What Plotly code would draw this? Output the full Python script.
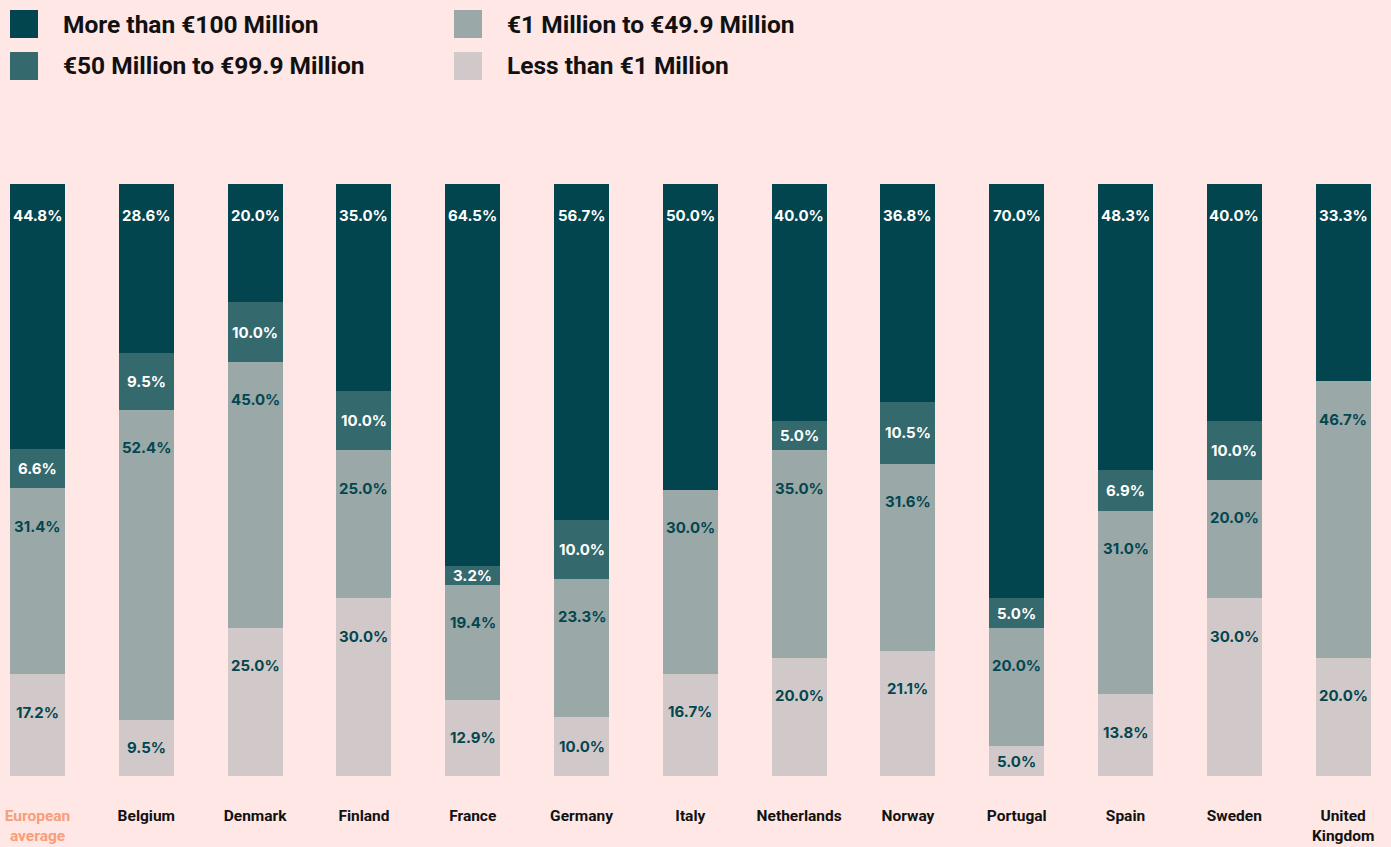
import plotly.graph_objects as go

countries = ["European<br>average", "Belgium", "Denmark", "Finland", "France", "Germany", "Italy",
             "Netherlands", "Norway", "Portugal", "Spain", "Sweden", "United<br>Kingdom"]

less_1m = [17.2, 9.5, 25.0, 30.0, 12.9, 10.0, 16.7, 20.0, 21.1, 5.0, 13.8, 30.0, 20.0]
m1_to_49 = [31.4, 52.4, 45.0, 25.0, 19.4, 23.3, 30.0, 35.0, 31.6, 20.0, 31.0, 20.0, 46.7]
m50_to_99 = [6.6, 9.5, 10.0, 10.0, 3.2, 10.0, 0.0, 5.0, 10.5, 5.0, 6.9, 10.0, 0.0]
over_100m = [44.8, 28.6, 20.0, 35.0, 64.5, 56.7, 50.0, 40.0, 36.8, 70.0, 48.3, 40.0, 33.3]

series = [
    ("Less than €1 Million", less_1m, "#D1C9C9", "#03464F"),
    ("€1 Million to €49.9 Million", m1_to_49, "#9AA8A8", "#03464F"),
    ("€50 Million to €99.9 Million", m50_to_99, "#34696E", "#FFFFFF"),
    ("More than €100 Million", over_100m, "#02454F", "#FFFFFF"),
]

BG = "#FEE7E5"
W, H = 1391, 847
TOP, BOTTOM = 184, 776

x_idx = list(range(len(countries)))
ticktext = []
for i, c in enumerate(countries):
    if i == 0:
        ticktext.append(f"<span style='color:#F79E7B'>{c}</span>")
    else:
        ticktext.append(c)

fig = go.Figure()
for name, vals, col, _ in series:
    fig.add_trace(go.Bar(x=x_idx, y=vals, name=name, marker=dict(color=col, line=dict(width=0)),
                         hoverinfo="skip", showlegend=False))

# labels placed near the top of each segment (normalised to 100%)
totals = [sum(s[1][i] for s in series) for i in x_idx]
annotations = []
for i in x_idx:
    base = 0.0
    for k, (name, vals, col, tcol) in enumerate(series):
        v = vals[i] / totals[i] * 100
        if vals[i] > 0:
            off = 5.3 if k == 3 else 6.4
            ypos = base + v - min(v / 2, off)
            annotations.append(dict(x=i, y=ypos, xref="x", yref="y", text=f"{vals[i]:.1f}%",
                                    showarrow=False, font=dict(family="Inter", size=15, color=tcol, weight=700)))
        base += v

# custom legend: two columns of big squares
legend_items = [
    ("More than €100 Million", "#02454F", 10, 10),
    ("€50 Million to €99.9 Million", "#34696E", 10, 52),
    ("€1 Million to €49.9 Million", "#9AA8A8", 454, 10),
    ("Less than €1 Million", "#D1C9C9", 454, 52),
]
ph = BOTTOM - TOP
shapes = []
for name, col, px_, py_ in legend_items:
    shapes.append(dict(type="rect", xref="paper", yref="paper",
                       x0=px_ / W, x1=(px_ + 28) / W,
                       y0=(BOTTOM - py_ - 28) / ph, y1=(BOTTOM - py_) / ph,
                       fillcolor=col, line=dict(width=0)))
    annotations.append(dict(xref="paper", yref="paper", x=(px_ + 51) / W, y=(BOTTOM - py_ - 14) / ph,
                            xanchor="left", yanchor="middle", showarrow=False, text=name,
                            font=dict(family="Roboto", size=24.5, color="#111111", weight=700)))

fig.update_layout(
    barmode="stack",
    barnorm="percent",
    bargap=0.495,
    width=W, height=H,
    paper_bgcolor=BG, plot_bgcolor=BG,
    margin=dict(l=0, r=0, t=TOP, b=H - BOTTOM, autoexpand=False),
    annotations=annotations,
    shapes=shapes,
    showlegend=False,
)
fig.update_xaxes(tickmode="array", tickvals=x_idx, ticktext=ticktext,
                 range=[-0.345, 12.44], showgrid=False, zeroline=False, showline=False,
                 ticks="", ticklabelstandoff=28, ticklabeloverflow="allow", automargin=False,
                 tickfont=dict(family="Roboto", size=15.5, color="#111111", weight=700))
fig.update_yaxes(range=[0, 100], visible=False, showgrid=False)

fig.write_html("out.html", config={"displayModeBar": False},
               post_script=f"document.body.style.margin='0';document.body.style.background='{BG}';")
